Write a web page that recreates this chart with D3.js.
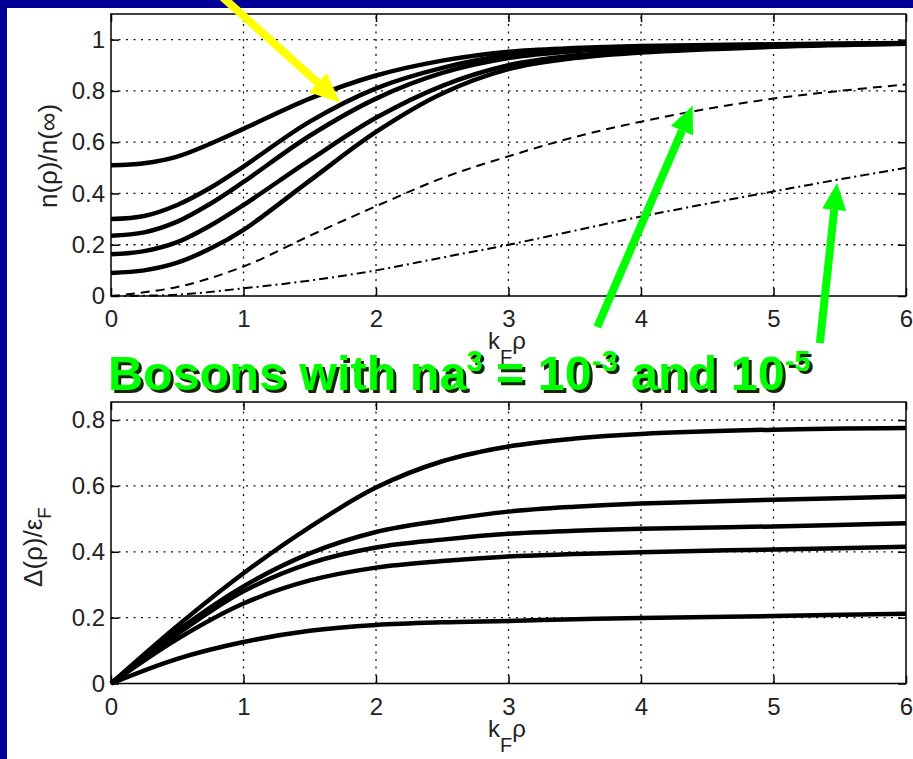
<!DOCTYPE html>
<html>
<head>
<meta charset="utf-8">
<script src="https://cdn.jsdelivr.net/npm/d3@7"></script>
<style>
  body { margin: 0; background: #000099; }
  svg { display: block; }
  text { font-family: 'Liberation Sans', Arial, Helvetica, sans-serif; }
</style>
</head>
<body>
<svg width="913" height="759"></svg>
<script>
// k_F rho sample points for the fermion density curves
var kfRhoDensity = [0, 0.25, 0.5, 0.75, 1, 1.5, 2, 2.5, 3, 3.5, 4, 5, 6];

// n(rho)/n(inf), five fermion curves
var densityFermi = [
  [0.51, 0.518, 0.544, 0.594, 0.652, 0.77, 0.86, 0.918, 0.953, 0.967, 0.975, 0.982, 0.987],
  [0.3, 0.312, 0.355, 0.422, 0.505, 0.68, 0.81, 0.89, 0.94, 0.96, 0.97, 0.98, 0.986],
  [0.235, 0.248, 0.29, 0.36, 0.445, 0.625, 0.77, 0.87, 0.928, 0.955, 0.967, 0.978, 0.986],
  [0.163, 0.175, 0.21, 0.275, 0.355, 0.53, 0.695, 0.82, 0.9, 0.938, 0.957, 0.975, 0.985],
  [0.09, 0.1, 0.13, 0.185, 0.258, 0.45, 0.64, 0.79, 0.885, 0.928, 0.95, 0.972, 0.984]
];

// boson curves, na^3 = 1e-3 (dashed) and 1e-5 (dash-dot)
var kfRhoBose = [0, 0.5, 1, 1.5, 2, 2.5, 3, 3.5, 4, 4.5, 5, 5.5, 6];
var densityBose3 = [0, 0.035, 0.115, 0.235, 0.35, 0.46, 0.545, 0.62, 0.68, 0.73, 0.77, 0.8, 0.825];
var densityBose5 = [0, 0.005, 0.03, 0.06, 0.1, 0.15, 0.2, 0.255, 0.31, 0.36, 0.408, 0.455, 0.5];

// Delta(rho)/eps_F, five curves
var kfRhoGap = [0, 0.5, 1, 1.5, 2, 2.5, 3, 3.5, 4, 5, 6];
var gapCurves = [
  [0, 0.175, 0.335, 0.475, 0.595, 0.675, 0.72, 0.744, 0.758, 0.771, 0.776],
  [0, 0.16, 0.295, 0.395, 0.46, 0.495, 0.522, 0.537, 0.547, 0.558, 0.568],
  [0, 0.15, 0.28, 0.365, 0.413, 0.437, 0.455, 0.464, 0.47, 0.477, 0.487],
  [0, 0.135, 0.243, 0.313, 0.352, 0.372, 0.386, 0.393, 0.399, 0.407, 0.415],
  [0, 0.075, 0.126, 0.16, 0.178, 0.186, 0.19, 0.195, 0.199, 0.205, 0.212]
];

var xTicks = [0, 1, 2, 3, 4, 5, 6];
var densityTicks = [0, 0.2, 0.4, 0.6, 0.8, 1];
var gapTicks = [0, 0.2, 0.4, 0.6, 0.8];

// annotation arrows, [tail, tip] in top-panel data units
var yellowArrow = [[0.82, 1.176], [1.73, 0.754]];
var greenArrows = [
  [[3.67, -0.121], [4.39, 0.742]],
  [[5.35, -0.184], [5.48, 0.441]]
];

var svg = d3.select('svg');

svg
  .append('rect')
  .attr('x', 7)
  .attr('y', 8)
  .attr('width', 906)
  .attr('height', 751)
  .attr('fill', '#fff');

var x = d3.scaleLinear().domain([0, 6]).range([111, 906]);
var yTop = d3.scaleLinear().domain([0, 1.1]).range([296, 14]);
var yBot = d3.scaleLinear().domain([0, 0.855]).range([683.5, 402]);

function drawFrame(y, yTicks) {
  var g = svg.append('g');
  var y0 = y.range()[0],
    y1 = y.range()[1];

  // dotted grid
  g.selectAll('line.vgrid')
    .data(xTicks.slice(1, -1))
    .enter()
    .append('line')
    .attr('x1', (d) => x(d))
    .attr('x2', (d) => x(d))
    .attr('y1', y0)
    .attr('y2', y1)
    .attr('stroke', '#111')
    .attr('stroke-width', 1.3)
    .attr('stroke-dasharray', '2,5.5');

  g.selectAll('line.hgrid')
    .data(yTicks.slice(1))
    .enter()
    .append('line')
    .attr('x1', x(0))
    .attr('x2', x(6))
    .attr('y1', (d) => y(d))
    .attr('y2', (d) => y(d))
    .attr('stroke', '#111')
    .attr('stroke-width', 1.3)
    .attr('stroke-dasharray', '2,5.5');

  g.append('g')
    .attr('transform', 'translate(0,' + y0 + ')')
    .call(d3.axisBottom(x).tickValues(xTicks).tickSizeInner(-8).tickSizeOuter(0).tickPadding(14).tickFormat((d) => d));
  g.append('g')
    .attr('transform', 'translate(' + x(0) + ',0)')
    .call(d3.axisLeft(y).tickValues(yTicks).tickSizeInner(-8).tickSizeOuter(0).tickPadding(6).tickFormat((d) => d));
  g.append('g')
    .attr('transform', 'translate(0,' + y1 + ')')
    .call(d3.axisTop(x).tickValues(xTicks).tickSizeInner(-8).tickSizeOuter(0).tickFormat(''));
  g.append('g')
    .attr('transform', 'translate(' + x(6) + ',0)')
    .call(d3.axisRight(y).tickValues(yTicks).tickSizeInner(-8).tickSizeOuter(0).tickFormat(''));

  g.selectAll('.domain').remove();
  g.selectAll('.tick line').attr('stroke', '#000').attr('stroke-width', 1.5);
  g.selectAll('.tick text')
    .attr('fill', '#222')
    .style('font-size', '24px')
    .style('font-family', "'Liberation Sans', Arial, sans-serif");

  g.append('rect')
    .attr('x', x(0))
    .attr('y', y1)
    .attr('width', x(6) - x(0))
    .attr('height', y0 - y1)
    .attr('fill', 'none')
    .attr('stroke', '#000')
    .attr('stroke-width', 1.5);

  // x label k_F rho
  var xl = g
    .append('text')
    .attr('x', 488)
    .attr('y', y0 + 53)
    .attr('fill', '#222')
    .style('font-size', '24px');
  xl.append('tspan').text('k');
  xl.append('tspan').attr('dy', 15).style('font-size', '20px').text('F');
  xl.append('tspan').attr('dy', -15).text('\u03c1');

  return g;
}

function drawCurves(g, y, xs, series, width, dash) {
  var line = d3
    .line()
    .x((d, i) => x(xs[i]))
    .y((d) => y(d))
    .curve(d3.curveCatmullRom.alpha(0.5));

  g.selectAll(null)
    .data(series)
    .enter()
    .append('path')
    .attr('d', (d) => line(d))
    .attr('fill', 'none')
    .attr('stroke', '#000')
    .attr('stroke-width', width)
    .attr('stroke-linejoin', 'round')
    .attr('stroke-dasharray', dash);
}

// top panel
var topG = drawFrame(yTop, densityTicks);
drawCurves(topG, yTop, kfRhoBose, [densityBose3], 2, '9,6');
drawCurves(topG, yTop, kfRhoBose, [densityBose5], 2, '9,4,2,4');
drawCurves(topG, yTop, kfRhoDensity, densityFermi, 4.5, null);

topG
  .append('text')
  .attr('transform', 'translate(57,156) rotate(-90)')
  .attr('text-anchor', 'middle')
  .attr('fill', '#222')
  .style('font-size', '26px')
  .text('n(\u03c1)/n(\u221e)');

// bottom panel
var botG = drawFrame(yBot, gapTicks);
drawCurves(botG, yBot, kfRhoGap, gapCurves, 4.5, null);

var gl = botG
  .append('text')
  .attr('transform', 'translate(42,547) rotate(-90)')
  .attr('text-anchor', 'middle')
  .attr('fill', '#222')
  .style('font-size', '26px');
gl.append('tspan').text('\u0394(\u03c1)/\u03b5');
gl.append('tspan').attr('dy', 9).style('font-size', '19px').text('F');

// green caption with drop shadow
function caption(dx, dy, color) {
  var t = svg
    .append('text')
    .attr('x', 108 + dx)
    .attr('y', 390 + dy)
    .attr('fill', color)
    .style('font-size', '48.5px')
    .style('font-weight', 'bold');
  t.append('tspan').text('Bosons with na');
  t.append('tspan').attr('dy', -19).style('font-size', '29px').text('3');
  t.append('tspan').attr('dy', 19).text(' = 10');
  t.append('tspan').attr('dy', -19).style('font-size', '29px').text('-3');
  t.append('tspan').attr('dy', 19).text(' and 10');
  t.append('tspan').attr('dy', -19).style('font-size', '29px').text('-5');
}
caption(3, 3, '#142800');
caption(0, 0, '#00ff00');

function arrow(a, color, width, headLen, headHalf) {
  var x0 = x(a[0][0]),
    y0 = yTop(a[0][1]),
    x1 = x(a[1][0]),
    y1 = yTop(a[1][1]);
  var ang = Math.atan2(y1 - y0, x1 - x0);
  var bx = x1 - headLen * Math.cos(ang),
    by = y1 - headLen * Math.sin(ang);
  var px = -Math.sin(ang) * headHalf,
    py = Math.cos(ang) * headHalf;

  svg
    .append('line')
    .attr('x1', x0)
    .attr('y1', y0)
    .attr('x2', bx)
    .attr('y2', by)
    .attr('stroke', color)
    .attr('stroke-width', width);
  svg
    .append('polygon')
    .attr('points', [[x1, y1], [bx + px, by + py], [bx - px, by - py]].map((p) => p.join(',')).join(' '))
    .attr('fill', color);
}

arrow(yellowArrow, '#ffff00', 8, 30, 13);
greenArrows.forEach((a) => arrow(a, '#00ff00', 8, 27, 12));
</script>
</body>
</html>
